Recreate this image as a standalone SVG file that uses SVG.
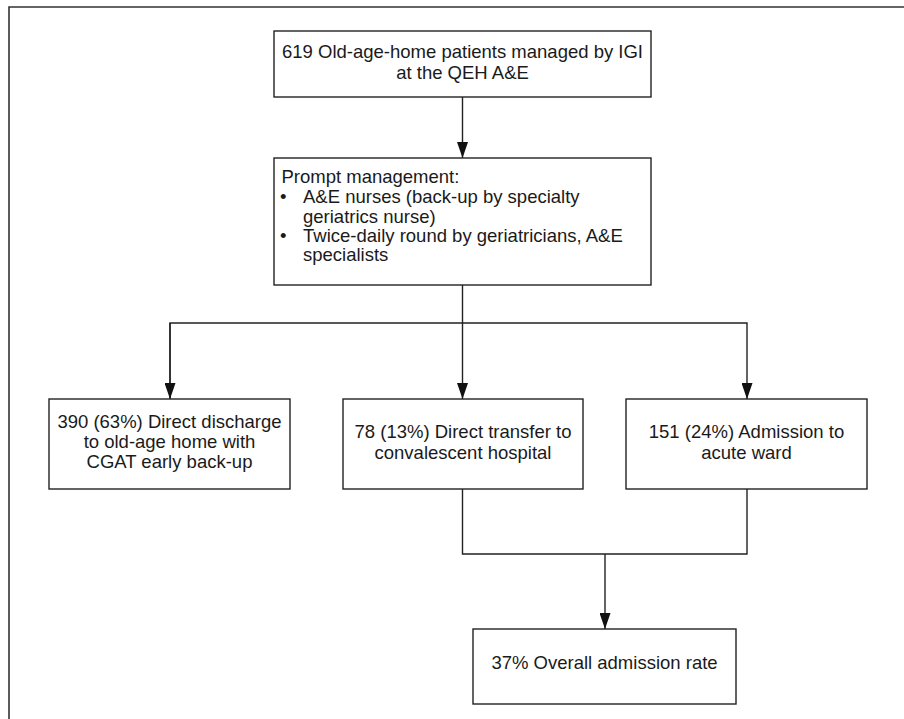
<svg xmlns="http://www.w3.org/2000/svg" width="904" height="719" viewBox="0 0 904 719">
<style>
.box{fill:#fff;stroke:#222;stroke-width:1.4}
.t{font-family:"Liberation Sans",Arial,sans-serif;font-size:18.5px;fill:#1a1a1a}
.c{text-anchor:middle}
.ln{fill:none;stroke:#222;stroke-width:1.4}
</style>
<defs>
<marker id="ah" markerWidth="16" markerHeight="11" refX="16" refY="5.5" orient="auto" markerUnits="userSpaceOnUse" viewBox="0 0 16 11">
<path d="M0,0 L16,5.5 L0,11 Z" fill="#111"/>
</marker>
</defs>
<rect width="904" height="719" fill="#fff"/>
<path d="M9,719 V7 H904" fill="none" stroke="#333" stroke-width="1.6"/>
<g id="connectors">
<path class="ln" d="M462.5,97 V158" marker-end="url(#ah)"/>
<path class="ln" d="M462.5,285 V399" marker-end="url(#ah)"/>
<path class="ln" d="M170,399 V323 H747 V399" marker-end="url(#ah)"/>
<path class="ln" d="M170,323 V399" marker-end="url(#ah)"/>
<path class="ln" d="M462.5,489 V554 H747 V489"/>
<path class="ln" d="M605,554 V629" marker-end="url(#ah)"/>
</g>
<g id="node-start">
<rect class="box" x="274" y="31" width="377" height="66"/>
<text class="t c" x="462.5" y="58">619 Old-age-home patients managed by IGI</text>
<text class="t c" x="462.5" y="79">at the QEH A&amp;E</text>
</g>
<g id="node-prompt">
<rect class="box" x="274" y="158" width="377" height="127"/>
<text class="t" x="281.5" y="183">Prompt management:</text>
<text class="t" x="280" y="203">•</text>
<text class="t" x="303" y="203">A&amp;E nurses (back-up by specialty</text>
<text class="t" x="303" y="222.5">geriatrics nurse)</text>
<text class="t" x="280" y="242">•</text>
<text class="t" x="303" y="242">Twice-daily round by geriatricians, A&amp;E</text>
<text class="t" x="303" y="261">specialists</text>
</g>
<g id="node-discharge">
<rect class="box" x="49" y="399" width="241" height="90"/>
<text class="t c" x="169.5" y="427.5">390 (63%) Direct discharge</text>
<text class="t c" x="169.5" y="447.5">to old-age home with</text>
<text class="t c" x="169.5" y="468">CGAT early back-up</text>
</g>
<g id="node-transfer">
<rect class="box" x="343" y="399" width="240" height="90"/>
<text class="t c" x="463" y="438">78 (13%) Direct transfer to</text>
<text class="t c" x="463" y="459">convalescent hospital</text>
</g>
<g id="node-admission">
<rect class="box" x="626" y="399" width="241" height="90"/>
<text class="t c" x="746.5" y="438">151 (24%) Admission to</text>
<text class="t c" x="746.5" y="458.5">acute ward</text>
</g>
<g id="node-overall">
<rect class="box" x="473" y="629" width="263" height="75"/>
<text class="t c" x="604.5" y="669">37% Overall admission rate</text>
</g>
</svg>
